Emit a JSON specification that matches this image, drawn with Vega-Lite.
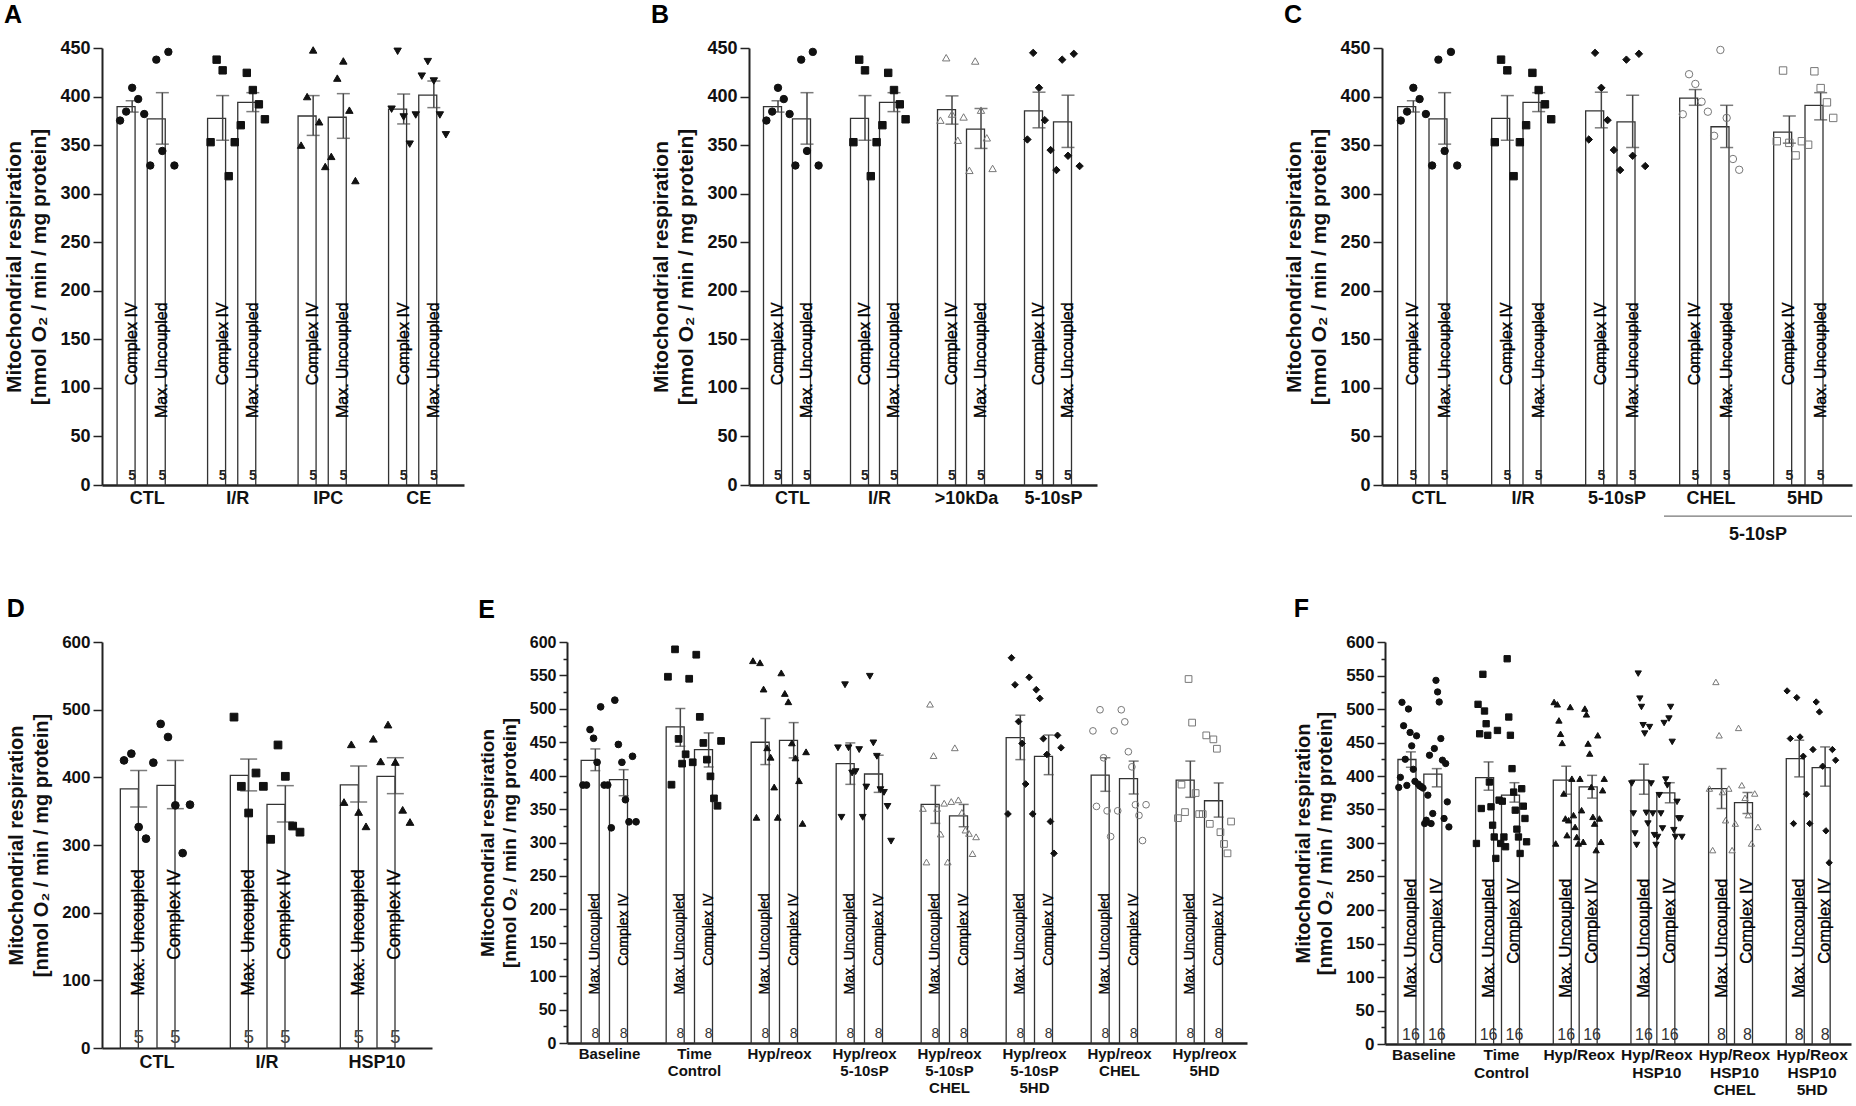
{
  "$schema": "https://vega.github.io/schema/vega-lite/v6.json",
  "padding": {"left": 3, "top": 3, "right": 0, "bottom": 0},
  "config": {
    "font": "Liberation Sans",
    "view": {"stroke": null},
    "title": {"fontSize": 25, "fontWeight": "bold", "anchor": "start", "frame": "bounds", "offset": 11, "color": "#000"},
    "axis": {"grid": false, "labelFontWeight": "bold", "labelColor": "#111", "titleFontWeight": "bold", "titleColor": "#111", "domainColor": "#222", "domainWidth": 2, "tickColor": "#222", "tickWidth": 1.5, "labelPadding": 3, "titlePadding": 10, "labelOverlap": false},
    "text": {"font": "Liberation Sans"}
  },
  "datasets": {
    "bars": [
      {"key":"A1a","panel":"A","grp":"CTL","meas":"Complex IV","mean":389.6,"lo":384,"hi":395.7,"n":5},
      {"key":"A1b","panel":"A","grp":"CTL","meas":"Max. Uncoupled","mean":377,"lo":351,"hi":404,"n":5},
      {"key":"A2a","panel":"A","grp":"I/R","meas":"Complex IV","mean":377.6,"lo":355,"hi":401,"n":5},
      {"key":"A2b","panel":"A","grp":"I/R","meas":"Max. Uncoupled","mean":394,"lo":384.5,"hi":404,"n":5},
      {"key":"A3a","panel":"A","grp":"IPC","meas":"Complex IV","mean":380,"lo":360,"hi":401,"n":5},
      {"key":"A3b","panel":"A","grp":"IPC","meas":"Max. Uncoupled","mean":378.7,"lo":357,"hi":403,"n":5},
      {"key":"A4a","panel":"A","grp":"CE","meas":"Complex IV","mean":387,"lo":371.8,"hi":402.6,"n":5},
      {"key":"A4b","panel":"A","grp":"CE","meas":"Max. Uncoupled","mean":401.5,"lo":388.6,"hi":416,"n":5},
      {"key":"B1a","panel":"B","grp":"CTL","meas":"Complex IV","mean":389.6,"lo":384,"hi":395.7,"n":5},
      {"key":"B1b","panel":"B","grp":"CTL","meas":"Max. Uncoupled","mean":377,"lo":351,"hi":404,"n":5},
      {"key":"B2a","panel":"B","grp":"I/R","meas":"Complex IV","mean":377.6,"lo":355,"hi":401,"n":5},
      {"key":"B2b","panel":"B","grp":"I/R","meas":"Max. Uncoupled","mean":394,"lo":384.5,"hi":404,"n":5},
      {"key":"B3a","panel":"B","grp":">10kDa","meas":"Complex IV","mean":386.6,"lo":371.6,"hi":400.7,"n":5},
      {"key":"B3b","panel":"B","grp":">10kDa","meas":"Max. Uncoupled","mean":366.4,"lo":346.6,"hi":387.7,"n":5},
      {"key":"B4a","panel":"B","grp":"5-10sP","meas":"Complex IV","mean":385.3,"lo":367.8,"hi":404.5,"n":5},
      {"key":"B4b","panel":"B","grp":"5-10sP","meas":"Max. Uncoupled","mean":374,"lo":347.6,"hi":401.4,"n":5},
      {"key":"C1a","panel":"C","grp":"CTL","meas":"Complex IV","mean":389.6,"lo":384,"hi":395.7,"n":5},
      {"key":"C1b","panel":"C","grp":"CTL","meas":"Max. Uncoupled","mean":377,"lo":351,"hi":404,"n":5},
      {"key":"C2a","panel":"C","grp":"I/R","meas":"Complex IV","mean":377.6,"lo":355,"hi":401,"n":5},
      {"key":"C2b","panel":"C","grp":"I/R","meas":"Max. Uncoupled","mean":394,"lo":384.5,"hi":404,"n":5},
      {"key":"C3a","panel":"C","grp":"5-10sP","meas":"Complex IV","mean":385.3,"lo":367.8,"hi":404.5,"n":5},
      {"key":"C3b","panel":"C","grp":"5-10sP","meas":"Max. Uncoupled","mean":374,"lo":347.6,"hi":401.4,"n":5},
      {"key":"C4a","panel":"C","grp":"CHEL","meas":"Complex IV","mean":398.4,"lo":391,"hi":407.2,"n":5},
      {"key":"C4b","panel":"C","grp":"CHEL","meas":"Max. Uncoupled","mean":368.9,"lo":347.5,"hi":391,"n":5},
      {"key":"C5a","panel":"C","grp":"5HD","meas":"Complex IV","mean":363.3,"lo":352,"hi":380,"n":5},
      {"key":"C5b","panel":"C","grp":"5HD","meas":"Max. Uncoupled","mean":391,"lo":376,"hi":404,"n":5},
      {"key":"D1a","panel":"D","grp":"CTL","meas":"Max. Uncoupled","mean":382.8,"lo":356,"hi":410,"n":5},
      {"key":"D1b","panel":"D","grp":"CTL","meas":"Complex IV","mean":388,"lo":353.7,"hi":425,"n":5},
      {"key":"D2a","panel":"D","grp":"I/R","meas":"Max. Uncoupled","mean":403,"lo":380,"hi":427,"n":5},
      {"key":"D2b","panel":"D","grp":"I/R","meas":"Complex IV","mean":360,"lo":334,"hi":387.7,"n":5},
      {"key":"D3a","panel":"D","grp":"HSP10","meas":"Max. Uncoupled","mean":389,"lo":363.5,"hi":416.7,"n":5},
      {"key":"D3b","panel":"D","grp":"HSP10","meas":"Complex IV","mean":401.5,"lo":375.9,"hi":429,"n":5},
      {"key":"E1a","panel":"E","grp":"Baseline","meas":"Max. Uncoupled","mean":423,"lo":407.5,"hi":440,"n":8},
      {"key":"E1b","panel":"E","grp":"Baseline","meas":"Complex IV","mean":394,"lo":370,"hi":409,"n":8},
      {"key":"E2a","panel":"E","grp":"Time\nControl","meas":"Max. Uncoupled","mean":473,"lo":444,"hi":500.5,"n":8},
      {"key":"E2b","panel":"E","grp":"Time\nControl","meas":"Complex IV","mean":439,"lo":413,"hi":464,"n":8},
      {"key":"E3a","panel":"E","grp":"Hyp/reox","meas":"Max. Uncoupled","mean":450,"lo":416.6,"hi":485.5,"n":8},
      {"key":"E3b","panel":"E","grp":"Hyp/reox","meas":"Complex IV","mean":452.7,"lo":426.6,"hi":479.4,"n":8},
      {"key":"E4a","panel":"E","grp":"Hyp/reox\n5-10sP","meas":"Max. Uncoupled","mean":418,"lo":387,"hi":449,"n":8},
      {"key":"E4b","panel":"E","grp":"Hyp/reox\n5-10sP","meas":"Complex IV","mean":402.5,"lo":375,"hi":430.6,"n":8},
      {"key":"E5a","panel":"E","grp":"Hyp/reox\n5-10sP\nCHEL","meas":"Max. Uncoupled","mean":357,"lo":328.6,"hi":385.4,"n":8},
      {"key":"E5b","panel":"E","grp":"Hyp/reox\n5-10sP\nCHEL","meas":"Complex IV","mean":339.7,"lo":323.6,"hi":357,"n":8},
      {"key":"E6a","panel":"E","grp":"Hyp/reox\n5-10sP\n5HD","meas":"Max. Uncoupled","mean":456.8,"lo":424,"hi":490.5,"n":8},
      {"key":"E6b","panel":"E","grp":"Hyp/reox\n5-10sP\n5HD","meas":"Complex IV","mean":429,"lo":401.5,"hi":460.8,"n":8},
      {"key":"E7a","panel":"E","grp":"Hyp/reox\nCHEL","meas":"Max. Uncoupled","mean":400.7,"lo":376.6,"hi":426.8,"n":8},
      {"key":"E7b","panel":"E","grp":"Hyp/reox\nCHEL","meas":"Complex IV","mean":395.6,"lo":372.6,"hi":421.8,"n":8},
      {"key":"E8a","panel":"E","grp":"Hyp/reox\n5HD","meas":"Max. Uncoupled","mean":393.2,"lo":367.6,"hi":421.8,"n":8},
      {"key":"E8b","panel":"E","grp":"Hyp/reox\n5HD","meas":"Complex IV","mean":362.5,"lo":338,"hi":389.1,"n":8},
      {"key":"F1a","panel":"F","grp":"Baseline","meas":"Max. Uncoupled","mean":424.6,"lo":413,"hi":436,"n":16},
      {"key":"F1b","panel":"F","grp":"Baseline","meas":"Complex IV","mean":402.7,"lo":383.8,"hi":411,"n":16},
      {"key":"F2a","panel":"F","grp":"Time\nControl","meas":"Max. Uncoupled","mean":397.7,"lo":378.8,"hi":421,"n":16},
      {"key":"F2b","panel":"F","grp":"Time\nControl","meas":"Complex IV","mean":371.4,"lo":361,"hi":390,"n":16},
      {"key":"F3a","panel":"F","grp":"Hyp/Reox","meas":"Max. Uncoupled","mean":393.7,"lo":372.8,"hi":414.6,"n":16},
      {"key":"F3b","panel":"F","grp":"Hyp/Reox","meas":"Complex IV","mean":383.8,"lo":367,"hi":401,"n":16},
      {"key":"F4a","panel":"F","grp":"Hyp/Reox\nHSP10","meas":"Max. Uncoupled","mean":393.7,"lo":372.8,"hi":417.6,"n":16},
      {"key":"F4b","panel":"F","grp":"Hyp/Reox\nHSP10","meas":"Complex IV","mean":374.8,"lo":360,"hi":390,"n":16},
      {"key":"F5a","panel":"F","grp":"Hyp/Reox\nHSP10\nCHEL","meas":"Max. Uncoupled","mean":381.3,"lo":351.5,"hi":411,"n":8},
      {"key":"F5b","panel":"F","grp":"Hyp/Reox\nHSP10\nCHEL","meas":"Complex IV","mean":360.4,"lo":344,"hi":375.4,"n":8},
      {"key":"F6a","panel":"F","grp":"Hyp/Reox\nHSP10\n5HD","meas":"Max. Uncoupled","mean":426,"lo":398.7,"hi":453.4,"n":8},
      {"key":"F6b","panel":"F","grp":"Hyp/Reox\nHSP10\n5HD","meas":"Complex IV","mean":412.6,"lo":384.8,"hi":443.4,"n":8}
    ],
    "pts": [
      {"key":"A1a","rep":1,"value":375.3},{"key":"A1a","rep":2,"value":384.5},{"key":"A1a","rep":3,"value":409},{"key":"A1a","rep":4,"value":397.4},{"key":"A1a","rep":5,"value":382},
      {"key":"A1b","rep":1,"value":329},{"key":"A1b","rep":2,"value":438},{"key":"A1b","rep":3,"value":344},{"key":"A1b","rep":4,"value":446},{"key":"A1b","rep":5,"value":329},
      {"key":"A2a","rep":1,"value":353},{"key":"A2a","rep":2,"value":438},{"key":"A2a","rep":3,"value":427},{"key":"A2a","rep":4,"value":318},{"key":"A2a","rep":5,"value":353},
      {"key":"A2b","rep":1,"value":370.5},{"key":"A2b","rep":2,"value":424.4},{"key":"A2b","rep":3,"value":406.7},{"key":"A2b","rep":4,"value":392},{"key":"A2b","rep":5,"value":376.6},
      {"key":"A3a","rep":1,"value":350},{"key":"A3a","rep":2,"value":400},{"key":"A3a","rep":3,"value":448},{"key":"A3a","rep":4,"value":374},{"key":"A3a","rep":5,"value":328},
      {"key":"A3b","rep":1,"value":338.4},{"key":"A3b","rep":2,"value":419},{"key":"A3b","rep":3,"value":436.7},{"key":"A3b","rep":4,"value":386},{"key":"A3b","rep":5,"value":313.5},
      {"key":"A4a","rep":1,"value":387},{"key":"A4a","rep":2,"value":446.6},{"key":"A4a","rep":3,"value":379},{"key":"A4a","rep":4,"value":351},{"key":"A4a","rep":5,"value":381},
      {"key":"A4b","rep":1,"value":421},{"key":"A4b","rep":2,"value":436},{"key":"A4b","rep":3,"value":416},{"key":"A4b","rep":4,"value":381},{"key":"A4b","rep":5,"value":360.6},
      {"key":"B1a","rep":1,"value":375.3},{"key":"B1a","rep":2,"value":384.5},{"key":"B1a","rep":3,"value":409},{"key":"B1a","rep":4,"value":397.4},{"key":"B1a","rep":5,"value":382},
      {"key":"B1b","rep":1,"value":329},{"key":"B1b","rep":2,"value":438},{"key":"B1b","rep":3,"value":344},{"key":"B1b","rep":4,"value":446},{"key":"B1b","rep":5,"value":329},
      {"key":"B2a","rep":1,"value":353},{"key":"B2a","rep":2,"value":438},{"key":"B2a","rep":3,"value":427},{"key":"B2a","rep":4,"value":318},{"key":"B2a","rep":5,"value":353},
      {"key":"B2b","rep":1,"value":370.5},{"key":"B2b","rep":2,"value":424.4},{"key":"B2b","rep":3,"value":406.7},{"key":"B2b","rep":4,"value":392},{"key":"B2b","rep":5,"value":376.6},
      {"key":"B3a","rep":1,"value":375.7},{"key":"B3a","rep":2,"value":440},{"key":"B3a","rep":3,"value":382},{"key":"B3a","rep":4,"value":355},{"key":"B3a","rep":5,"value":379},
      {"key":"B3b","rep":1,"value":324},{"key":"B3b","rep":2,"value":436.6},{"key":"B3b","rep":3,"value":386},{"key":"B3b","rep":4,"value":357.5},{"key":"B3b","rep":5,"value":326},
      {"key":"B4a","rep":1,"value":355.8},{"key":"B4a","rep":2,"value":445},{"key":"B4a","rep":3,"value":409},{"key":"B4a","rep":4,"value":375.7},{"key":"B4a","rep":5,"value":344.9},
      {"key":"B4b","rep":1,"value":324.3},{"key":"B4b","rep":2,"value":438},{"key":"B4b","rep":3,"value":339},{"key":"B4b","rep":4,"value":444},{"key":"B4b","rep":5,"value":328.4},
      {"key":"C1a","rep":1,"value":375.3},{"key":"C1a","rep":2,"value":384.5},{"key":"C1a","rep":3,"value":409},{"key":"C1a","rep":4,"value":397.4},{"key":"C1a","rep":5,"value":382},
      {"key":"C1b","rep":1,"value":329},{"key":"C1b","rep":2,"value":438},{"key":"C1b","rep":3,"value":344},{"key":"C1b","rep":4,"value":446},{"key":"C1b","rep":5,"value":329},
      {"key":"C2a","rep":1,"value":353},{"key":"C2a","rep":2,"value":438},{"key":"C2a","rep":3,"value":427},{"key":"C2a","rep":4,"value":318},{"key":"C2a","rep":5,"value":353},
      {"key":"C2b","rep":1,"value":370.5},{"key":"C2b","rep":2,"value":424.4},{"key":"C2b","rep":3,"value":406.7},{"key":"C2b","rep":4,"value":392},{"key":"C2b","rep":5,"value":376.6},
      {"key":"C3a","rep":1,"value":355.8},{"key":"C3a","rep":2,"value":445},{"key":"C3a","rep":3,"value":409},{"key":"C3a","rep":4,"value":375.7},{"key":"C3a","rep":5,"value":344.9},
      {"key":"C3b","rep":1,"value":324.3},{"key":"C3b","rep":2,"value":438},{"key":"C3b","rep":3,"value":339},{"key":"C3b","rep":4,"value":444},{"key":"C3b","rep":5,"value":328.4},
      {"key":"C4a","rep":1,"value":381.8},{"key":"C4a","rep":2,"value":423},{"key":"C4a","rep":3,"value":413},{"key":"C4a","rep":4,"value":394.7},{"key":"C4a","rep":5,"value":384.4},
      {"key":"C4b","rep":1,"value":359.6},{"key":"C4b","rep":2,"value":448},{"key":"C4b","rep":3,"value":378},{"key":"C4b","rep":4,"value":335.7},{"key":"C4b","rep":5,"value":324.6},
      {"key":"C5a","rep":1,"value":354},{"key":"C5a","rep":2,"value":426.8},{"key":"C5a","rep":3,"value":352.3},{"key":"C5a","rep":4,"value":339.4},{"key":"C5a","rep":5,"value":354},
      {"key":"C5b","rep":1,"value":350.4},{"key":"C5b","rep":2,"value":426},{"key":"C5b","rep":3,"value":408.7},{"key":"C5b","rep":4,"value":394},{"key":"C5b","rep":5,"value":378},
      {"key":"D1a","rep":1,"value":425},{"key":"D1a","rep":2,"value":435},{"key":"D1a","rep":3,"value":326.6},{"key":"D1a","rep":4,"value":309.4},{"key":"D1a","rep":5,"value":421.7},
      {"key":"D1b","rep":1,"value":479},{"key":"D1b","rep":2,"value":459.6},{"key":"D1b","rep":3,"value":358.6},{"key":"D1b","rep":4,"value":288},{"key":"D1b","rep":5,"value":359.6},
      {"key":"D2a","rep":1,"value":489},{"key":"D2a","rep":2,"value":386.7},{"key":"D2a","rep":3,"value":347.3},{"key":"D2a","rep":4,"value":406.4},{"key":"D2a","rep":5,"value":386.7},
      {"key":"D2b","rep":1,"value":308.4},{"key":"D2b","rep":2,"value":447.8},{"key":"D2b","rep":3,"value":401.5},{"key":"D2b","rep":4,"value":328},{"key":"D2b","rep":5,"value":319},
      {"key":"D3a","rep":1,"value":363.5},{"key":"D3a","rep":2,"value":448.8},{"key":"D3a","rep":3,"value":348.8},{"key":"D3a","rep":4,"value":327.6},{"key":"D3a","rep":5,"value":457},
      {"key":"D3b","rep":1,"value":423.6},{"key":"D3b","rep":2,"value":478},{"key":"D3b","rep":3,"value":422.7},{"key":"D3b","rep":4,"value":352},{"key":"D3b","rep":5,"value":334},
      {"key":"E1a","rep":1,"value":386},{"key":"E1a","rep":2,"value":386},{"key":"E1a","rep":3,"value":469},{"key":"E1a","rep":4,"value":456},{"key":"E1a","rep":5,"value":420},{"key":"E1a","rep":6,"value":503},{"key":"E1a","rep":7,"value":386},{"key":"E1a","rep":8,"value":386},
      {"key":"E1b","rep":1,"value":322},{"key":"E1b","rep":2,"value":513},{"key":"E1b","rep":3,"value":446.7},{"key":"E1b","rep":4,"value":420},{"key":"E1b","rep":5,"value":364},{"key":"E1b","rep":6,"value":331},{"key":"E1b","rep":7,"value":429},{"key":"E1b","rep":8,"value":331},
      {"key":"E2a","rep":1,"value":548},{"key":"E2a","rep":2,"value":386.5},{"key":"E2a","rep":3,"value":589},{"key":"E2a","rep":4,"value":455},{"key":"E2a","rep":5,"value":418},{"key":"E2a","rep":6,"value":432},{"key":"E2a","rep":7,"value":545},{"key":"E2a","rep":8,"value":420},
      {"key":"E2b","rep":1,"value":581},{"key":"E2b","rep":2,"value":488},{"key":"E2b","rep":3,"value":449},{"key":"E2b","rep":4,"value":424},{"key":"E2b","rep":5,"value":399},{"key":"E2b","rep":6,"value":366},{"key":"E2b","rep":7,"value":355},{"key":"E2b","rep":8,"value":452},
      {"key":"E3a","rep":1,"value":572},{"key":"E3a","rep":2,"value":337.7},{"key":"E3a","rep":3,"value":569},{"key":"E3a","rep":4,"value":529.6},{"key":"E3a","rep":5,"value":441.7},{"key":"E3a","rep":6,"value":427.6},{"key":"E3a","rep":7,"value":383},{"key":"E3a","rep":8,"value":337.7},
      {"key":"E3b","rep":1,"value":553.8},{"key":"E3b","rep":2,"value":523},{"key":"E3b","rep":3,"value":510.6},{"key":"E3b","rep":4,"value":449},{"key":"E3b","rep":5,"value":426.6},{"key":"E3b","rep":6,"value":392.5},{"key":"E3b","rep":7,"value":328.6},{"key":"E3b","rep":8,"value":435.7},
      {"key":"E4a","rep":1,"value":441.7},{"key":"E4a","rep":2,"value":337.7},{"key":"E4a","rep":3,"value":536},{"key":"E4a","rep":4,"value":441.7},{"key":"E4a","rep":5,"value":404},{"key":"E4a","rep":6,"value":406},{"key":"E4a","rep":7,"value":439},{"key":"E4a","rep":8,"value":337.7},
      {"key":"E4b","rep":1,"value":383},{"key":"E4b","rep":2,"value":548.7},{"key":"E4b","rep":3,"value":449},{"key":"E4b","rep":4,"value":429},{"key":"E4b","rep":5,"value":379},{"key":"E4b","rep":6,"value":375},{"key":"E4b","rep":7,"value":354},{"key":"E4b","rep":8,"value":302},
      {"key":"E5a","rep":1,"value":351},{"key":"E5a","rep":2,"value":270.8},{"key":"E5a","rep":3,"value":507},{"key":"E5a","rep":4,"value":430},{"key":"E5a","rep":5,"value":351},{"key":"E5a","rep":6,"value":312.6},{"key":"E5a","rep":7,"value":358.8},{"key":"E5a","rep":8,"value":270.8},
      {"key":"E5b","rep":1,"value":361.3},{"key":"E5b","rep":2,"value":441.7},{"key":"E5b","rep":3,"value":363.8},{"key":"E5b","rep":4,"value":345},{"key":"E5b","rep":5,"value":318.6},{"key":"E5b","rep":6,"value":313.6},{"key":"E5b","rep":7,"value":283.4},{"key":"E5b","rep":8,"value":308.5},
      {"key":"E6a","rep":1,"value":342.7},{"key":"E6a","rep":2,"value":576.4},{"key":"E6a","rep":3,"value":536},{"key":"E6a","rep":4,"value":481},{"key":"E6a","rep":5,"value":448.2},{"key":"E6a","rep":6,"value":387.5},{"key":"E6a","rep":7,"value":547.2},{"key":"E6a","rep":8,"value":342.7},
      {"key":"E6b","rep":1,"value":528.6},{"key":"E6b","rep":2,"value":515.6},{"key":"E6b","rep":3,"value":455.4},{"key":"E6b","rep":4,"value":431.7},{"key":"E6b","rep":5,"value":331.4},{"key":"E6b","rep":6,"value":283.8},{"key":"E6b","rep":7,"value":460.3},{"key":"E6b","rep":8,"value":441.8},
      {"key":"E7a","rep":1,"value":467},{"key":"E7a","rep":2,"value":354},{"key":"E7a","rep":3,"value":498.6},{"key":"E7a","rep":4,"value":426.8},{"key":"E7a","rep":5,"value":347.4},{"key":"E7a","rep":6,"value":308.9},{"key":"E7a","rep":7,"value":467},{"key":"E7a","rep":8,"value":347.4},
      {"key":"E7b","rep":1,"value":498.6},{"key":"E7b","rep":2,"value":480.5},{"key":"E7b","rep":3,"value":435.8},{"key":"E7b","rep":4,"value":413.2},{"key":"E7b","rep":5,"value":356.5},{"key":"E7b","rep":6,"value":340.5},{"key":"E7b","rep":7,"value":302.9},{"key":"E7b","rep":8,"value":356.5},
      {"key":"E8a","rep":1,"value":336.4},{"key":"E8a","rep":2,"value":386.6},{"key":"E8a","rep":3,"value":345.5},{"key":"E8a","rep":4,"value":544.6},{"key":"E8a","rep":5,"value":479.4},{"key":"E8a","rep":6,"value":374},{"key":"E8a","rep":7,"value":342.5},{"key":"E8a","rep":8,"value":342.5},
      {"key":"E8b","rep":1,"value":460.3},{"key":"E8b","rep":2,"value":327.9},{"key":"E8b","rep":3,"value":454.3},{"key":"E8b","rep":4,"value":440.3},{"key":"E8b","rep":5,"value":315.4},{"key":"E8b","rep":6,"value":297.8},{"key":"E8b","rep":7,"value":283.8},{"key":"E8b","rep":8,"value":331.4},
      {"key":"F1a","rep":1,"value":383},{"key":"F1a","rep":2,"value":398},{"key":"F1a","rep":3,"value":510},{"key":"F1a","rep":4,"value":475},{"key":"F1a","rep":5,"value":425},{"key":"F1a","rep":6,"value":386},{"key":"F1a","rep":7,"value":500},{"key":"F1a","rep":8,"value":465},{"key":"F1a","rep":9,"value":445},{"key":"F1a","rep":10,"value":410},{"key":"F1a","rep":11,"value":392},{"key":"F1a","rep":12,"value":460},{"key":"F1a","rep":13,"value":388},{"key":"F1a","rep":14,"value":385},{"key":"F1a","rep":15,"value":384},{"key":"F1a","rep":16,"value":382},
      {"key":"F1b","rep":1,"value":329},{"key":"F1b","rep":2,"value":334},{"key":"F1b","rep":3,"value":371.4},{"key":"F1b","rep":4,"value":431},{"key":"F1b","rep":5,"value":329},{"key":"F1b","rep":6,"value":344},{"key":"F1b","rep":7,"value":441},{"key":"F1b","rep":8,"value":542.8},{"key":"F1b","rep":9,"value":525.5},{"key":"F1b","rep":10,"value":510.5},{"key":"F1b","rep":11,"value":455.9},{"key":"F1b","rep":12,"value":423.6},{"key":"F1b","rep":13,"value":336.6},{"key":"F1b","rep":14,"value":418.6},{"key":"F1b","rep":15,"value":361.4},{"key":"F1b","rep":16,"value":324},
      {"key":"F2a","rep":1,"value":299.3},{"key":"F2a","rep":2,"value":507},{"key":"F2a","rep":3,"value":463},{"key":"F2a","rep":4,"value":351.5},{"key":"F2a","rep":5,"value":551.8},{"key":"F2a","rep":6,"value":497},{"key":"F2a","rep":7,"value":478},{"key":"F2a","rep":8,"value":460.8},{"key":"F2a","rep":9,"value":391},{"key":"F2a","rep":10,"value":354},{"key":"F2a","rep":11,"value":326.6},{"key":"F2a","rep":12,"value":309},{"key":"F2a","rep":13,"value":277},{"key":"F2a","rep":14,"value":468},{"key":"F2a","rep":15,"value":364},{"key":"F2a","rep":16,"value":299.3},
      {"key":"F2b","rep":1,"value":362.4},{"key":"F2b","rep":2,"value":309},{"key":"F2b","rep":3,"value":294.4},{"key":"F2b","rep":4,"value":575},{"key":"F2b","rep":5,"value":488},{"key":"F2b","rep":6,"value":460.8},{"key":"F2b","rep":7,"value":411},{"key":"F2b","rep":8,"value":376},{"key":"F2b","rep":9,"value":349},{"key":"F2b","rep":10,"value":320.7},{"key":"F2b","rep":11,"value":309},{"key":"F2b","rep":12,"value":284.4},{"key":"F2b","rep":13,"value":381},{"key":"F2b","rep":14,"value":355},{"key":"F2b","rep":15,"value":336.6},{"key":"F2b","rep":16,"value":301.8},
      {"key":"F3a","rep":1,"value":510.5},{"key":"F3a","rep":2,"value":299.3},{"key":"F3a","rep":3,"value":507},{"key":"F3a","rep":4,"value":483},{"key":"F3a","rep":5,"value":463},{"key":"F3a","rep":6,"value":449.4},{"key":"F3a","rep":7,"value":373.9},{"key":"F3a","rep":8,"value":336.6},{"key":"F3a","rep":9,"value":311.7},{"key":"F3a","rep":10,"value":334},{"key":"F3a","rep":11,"value":503},{"key":"F3a","rep":12,"value":396},{"key":"F3a","rep":13,"value":341.6},{"key":"F3a","rep":14,"value":324},{"key":"F3a","rep":15,"value":309},{"key":"F3a","rep":16,"value":299.3},
      {"key":"F3b","rep":1,"value":396},{"key":"F3b","rep":2,"value":349},{"key":"F3b","rep":3,"value":301.8},{"key":"F3b","rep":4,"value":500.6},{"key":"F3b","rep":5,"value":492},{"key":"F3b","rep":6,"value":448.4},{"key":"F3b","rep":7,"value":433.5},{"key":"F3b","rep":8,"value":383.8},{"key":"F3b","rep":9,"value":339},{"key":"F3b","rep":10,"value":329},{"key":"F3b","rep":11,"value":289.4},{"key":"F3b","rep":12,"value":460.8},{"key":"F3b","rep":13,"value":336.6},{"key":"F3b","rep":14,"value":301.8},{"key":"F3b","rep":15,"value":378.8},{"key":"F3b","rep":16,"value":396},
      {"key":"F4a","rep":1,"value":388.8},{"key":"F4a","rep":2,"value":344},{"key":"F4a","rep":3,"value":314.2},{"key":"F4a","rep":4,"value":297},{"key":"F4a","rep":5,"value":552.8},{"key":"F4a","rep":6,"value":515.5},{"key":"F4a","rep":7,"value":503},{"key":"F4a","rep":8,"value":475.8},{"key":"F4a","rep":9,"value":463.3},{"key":"F4a","rep":10,"value":345},{"key":"F4a","rep":11,"value":329},{"key":"F4a","rep":12,"value":473},{"key":"F4a","rep":13,"value":388.8},{"key":"F4a","rep":14,"value":344},{"key":"F4a","rep":15,"value":311.7},{"key":"F4a","rep":16,"value":297},
      {"key":"F4b","rep":1,"value":309},{"key":"F4b","rep":2,"value":371.4},{"key":"F4b","rep":3,"value":344},{"key":"F4b","rep":4,"value":321.7},{"key":"F4b","rep":5,"value":479},{"key":"F4b","rep":6,"value":394.7},{"key":"F4b","rep":7,"value":386},{"key":"F4b","rep":8,"value":485.7},{"key":"F4b","rep":9,"value":503},{"key":"F4b","rep":10,"value":450.9},{"key":"F4b","rep":11,"value":319.2},{"key":"F4b","rep":12,"value":309},{"key":"F4b","rep":13,"value":361.4},{"key":"F4b","rep":14,"value":336.6},{"key":"F4b","rep":15,"value":336.6},{"key":"F4b","rep":16,"value":309},
      {"key":"F5a","rep":1,"value":381.3},{"key":"F5a","rep":3,"value":289.4},{"key":"F5a","rep":5,"value":540.4},{"key":"F5a","rep":7,"value":460.8},{"key":"F5a","rep":9,"value":376},{"key":"F5a","rep":11,"value":334},{"key":"F5a","rep":13,"value":381.3},{"key":"F5a","rep":15,"value":289.4},
      {"key":"F5b","rep":1,"value":329},{"key":"F5b","rep":3,"value":471.8},{"key":"F5b","rep":5,"value":386.3},{"key":"F5b","rep":7,"value":367.4},{"key":"F5b","rep":9,"value":341.6},{"key":"F5b","rep":11,"value":299.3},{"key":"F5b","rep":13,"value":373.9},{"key":"F5b","rep":15,"value":324},
      {"key":"F6a","rep":1,"value":527},{"key":"F6a","rep":3,"value":455.9},{"key":"F6a","rep":5,"value":329},{"key":"F6a","rep":7,"value":517},{"key":"F6a","rep":9,"value":458.3},{"key":"F6a","rep":11,"value":429.5},{"key":"F6a","rep":13,"value":372.9},{"key":"F6a","rep":15,"value":329},
      {"key":"F6b","rep":1,"value":439.5},{"key":"F6b","rep":3,"value":510.5},{"key":"F6b","rep":5,"value":495.6},{"key":"F6b","rep":7,"value":414.6},{"key":"F6b","rep":9,"value":318.2},{"key":"F6b","rep":11,"value":270.5},{"key":"F6b","rep":13,"value":439.5},{"key":"F6b","rep":15,"value":423.6}
    ]
  },
  "resolve": {"scale": {"shape": "independent", "fill": "independent", "stroke": "independent", "xOffset": "independent"}},
  "spacing": 53,
  "vconcat": [
    {
      "spacing": 186,
      "resolve": {"scale": {"shape": "independent", "fill": "independent", "stroke": "independent", "xOffset": "independent"}},
      "hconcat": [
        {
          "width": 362, "height": 437, "title": "A",
          "layer": [
            {"data": {"name": "bars"}, "transform": [{"filter": "datum.panel === 'A'"}],
             "mark": {"type": "bar", "fill": "white", "stroke": "#333", "strokeWidth": 1.3},
             "encoding": {
               "x": {"field": "key", "type": "nominal", "scale": {"type": "band", "domain": ["A1a","A1b","A_s1","A2a","A2b","A_s2","A3a","A3b","A_s3","A4a","A4b"], "paddingInner": 0, "paddingOuter": 0.5}, "axis": {"labels": false, "ticks": false, "title": null, "domainWidth": 2.5}},
               "y": {"field": "mean", "type": "quantitative", "scale": {"domain": [0, 450], "nice": false}, "axis": {"values": [0,25,50,75,100,125,150,175,200,225,250,275,300,325,350,375,400,425,450], "labelExpr": "datum.value % 50 === 0 ? datum.label : ''", "labelOverlap": false, "tickSize": {"condition": {"test": "datum.value % 50 === 0", "value": 9}, "value": 5}, "labelFontSize": {"condition": {"test": "datum.value % 50 === 0", "value": 18}, "value": 1}, "title": ["Mitochondrial respiration", "[nmol O₂ / min / mg protein]"], "titleFontSize": 21, "titleLineHeight": 25}}
             }},
            {"data": {"name": "bars"}, "transform": [{"filter": "datum.panel === 'A'"}],
             "mark": {"type": "rule", "color": "#444", "strokeWidth": 1.5},
             "encoding": {"x": {"field": "key", "type": "nominal"}, "y": {"field": "lo", "type": "quantitative"}, "y2": {"field": "hi"}}},
            {"data": {"name": "bars"}, "transform": [{"filter": "datum.panel === 'A'"}],
             "mark": {"type": "tick", "color": "#444", "thickness": 1.5, "size": 13},
             "encoding": {"x": {"field": "key", "type": "nominal"}, "y": {"field": "hi", "type": "quantitative"}}},
            {"data": {"name": "bars"}, "transform": [{"filter": "datum.panel === 'A'"}],
             "mark": {"type": "tick", "color": "#444", "thickness": 1.5, "size": 13},
             "encoding": {"x": {"field": "key", "type": "nominal"}, "y": {"field": "lo", "type": "quantitative"}}},
            {"data": {"name": "pts"}, "transform": [{"lookup": "key", "from": {"data": {"name": "bars"}, "key": "key", "fields": ["panel", "grp"]}}, {"filter": "datum.panel === 'A'"}],
             "mark": {"type": "point", "filled": true, "opacity": 1, "size": 55, "strokeWidth": 1},
             "encoding": {
               "x": {"field": "key", "type": "nominal"},
               "xOffset": {"field": "rep", "type": "nominal"},
               "y": {"field": "value", "type": "quantitative"},
               "shape": {"field": "grp", "type": "nominal", "scale": {"domain": ["CTL","I/R","IPC","CE"], "range": ["circle","square","triangle-up","triangle-down"]}, "legend": null},
               "fill": {"field": "grp", "type": "nominal", "scale": {"domain": ["CTL","I/R","IPC","CE"], "range": ["#111","#111","#111","#111"]}, "legend": null},
               "stroke": {"field": "grp", "type": "nominal", "scale": {"domain": ["CTL","I/R","IPC","CE"], "range": ["#111","#111","#111","#111"]}, "legend": null}
             }},
            {"data": {"name": "bars"}, "transform": [{"filter": "datum.panel === 'A'"}],
             "mark": {"type": "text", "angle": 270, "align": "right", "baseline": "middle", "fontSize": 16, "color": "#000", "stroke": "#000", "strokeWidth": 0.35},
             "encoding": {"x": {"field": "key", "type": "nominal"}, "y": {"datum": 188}, "text": {"field": "meas"}}},
            {"data": {"name": "bars"}, "transform": [{"filter": "datum.panel === 'A'"}],
             "mark": {"type": "text", "baseline": "bottom", "dy": -2, "fontSize": 14, "fontWeight": "bold", "color": "#222"},
             "encoding": {"x": {"field": "key", "type": "nominal"}, "y": {"datum": 0}, "text": {"field": "n"}}},
            {"data": {"name": "bars"}, "transform": [{"filter": "datum.panel === 'A' && datum.meas === 'Max. Uncoupled'"}],
             "mark": {"type": "text", "baseline": "top", "dy": 5, "fontSize": 18, "fontWeight": "bold", "color": "#111", "lineBreak": "\n"},
             "encoding": {"x": {"field": "key", "type": "nominal", "bandPosition": 0}, "y": {"datum": 0}, "text": {"field": "grp"}}}
          ]
        },
        {
          "width": 348, "height": 437, "title": "B",
          "layer": [
            {"data": {"name": "bars"}, "transform": [{"filter": "datum.panel === 'B'"}],
             "mark": {"type": "bar", "fill": "white", "stroke": "#333", "strokeWidth": 1.3},
             "encoding": {
               "x": {"field": "key", "type": "nominal", "scale": {"type": "band", "domain": ["B1a","B1b","B_s1","B2a","B2b","B_s2","B3a","B3b","B_s3","B4a","B4b"], "paddingInner": 0, "paddingOuter": 0.5}, "axis": {"labels": false, "ticks": false, "title": null, "domainWidth": 2.5}},
               "y": {"field": "mean", "type": "quantitative", "scale": {"domain": [0, 450], "nice": false}, "axis": {"values": [0,25,50,75,100,125,150,175,200,225,250,275,300,325,350,375,400,425,450], "labelExpr": "datum.value % 50 === 0 ? datum.label : ''", "labelOverlap": false, "tickSize": {"condition": {"test": "datum.value % 50 === 0", "value": 9}, "value": 5}, "labelFontSize": {"condition": {"test": "datum.value % 50 === 0", "value": 18}, "value": 1}, "title": ["Mitochondrial respiration", "[nmol O₂ / min / mg protein]"], "titleFontSize": 21, "titleLineHeight": 25}}
             }},
            {"data": {"name": "bars"}, "transform": [{"filter": "datum.panel === 'B'"}],
             "mark": {"type": "rule", "color": "#444", "strokeWidth": 1.5},
             "encoding": {"x": {"field": "key", "type": "nominal"}, "y": {"field": "lo", "type": "quantitative"}, "y2": {"field": "hi"}}},
            {"data": {"name": "bars"}, "transform": [{"filter": "datum.panel === 'B'"}],
             "mark": {"type": "tick", "color": "#444", "thickness": 1.5, "size": 13},
             "encoding": {"x": {"field": "key", "type": "nominal"}, "y": {"field": "hi", "type": "quantitative"}}},
            {"data": {"name": "bars"}, "transform": [{"filter": "datum.panel === 'B'"}],
             "mark": {"type": "tick", "color": "#444", "thickness": 1.5, "size": 13},
             "encoding": {"x": {"field": "key", "type": "nominal"}, "y": {"field": "lo", "type": "quantitative"}}},
            {"data": {"name": "pts"}, "transform": [{"lookup": "key", "from": {"data": {"name": "bars"}, "key": "key", "fields": ["panel", "grp"]}}, {"filter": "datum.panel === 'B'"}],
             "mark": {"type": "point", "filled": true, "opacity": 1, "size": 55, "strokeWidth": 1},
             "encoding": {
               "x": {"field": "key", "type": "nominal"},
               "xOffset": {"field": "rep", "type": "nominal"},
               "y": {"field": "value", "type": "quantitative"},
               "shape": {"field": "grp", "type": "nominal", "scale": {"domain": ["CTL","I/R",">10kDa","5-10sP"], "range": ["circle","square","triangle-up","diamond"]}, "legend": null},
               "fill": {"field": "grp", "type": "nominal", "scale": {"domain": ["CTL","I/R",">10kDa","5-10sP"], "range": ["#111","#111","transparent","#111"]}, "legend": null},
               "stroke": {"field": "grp", "type": "nominal", "scale": {"domain": ["CTL","I/R",">10kDa","5-10sP"], "range": ["#111","#111","#777","#111"]}, "legend": null}
             }},
            {"data": {"name": "bars"}, "transform": [{"filter": "datum.panel === 'B'"}],
             "mark": {"type": "text", "angle": 270, "align": "right", "baseline": "middle", "fontSize": 16, "color": "#000", "stroke": "#000", "strokeWidth": 0.35},
             "encoding": {"x": {"field": "key", "type": "nominal"}, "y": {"datum": 188}, "text": {"field": "meas"}}},
            {"data": {"name": "bars"}, "transform": [{"filter": "datum.panel === 'B'"}],
             "mark": {"type": "text", "baseline": "bottom", "dy": -2, "fontSize": 14, "fontWeight": "bold", "color": "#222"},
             "encoding": {"x": {"field": "key", "type": "nominal"}, "y": {"datum": 0}, "text": {"field": "n"}}},
            {"data": {"name": "bars"}, "transform": [{"filter": "datum.panel === 'B' && datum.meas === 'Max. Uncoupled'"}],
             "mark": {"type": "text", "baseline": "top", "dy": 5, "fontSize": 18, "fontWeight": "bold", "color": "#111", "lineBreak": "\n"},
             "encoding": {"x": {"field": "key", "type": "nominal", "bandPosition": 0}, "y": {"datum": 0}, "text": {"field": "grp"}}}
          ]
        },
        {
          "width": 470, "height": 437, "title": "C",
          "layer": [
            {"data": {"name": "bars"}, "transform": [{"filter": "datum.panel === 'C'"}],
             "mark": {"type": "bar", "fill": "white", "stroke": "#333", "strokeWidth": 1.3},
             "encoding": {
               "x": {"field": "key", "type": "nominal", "scale": {"type": "band", "domain": ["C1a","C1b","C_s1","C2a","C2b","C_s2","C3a","C3b","C_s3","C4a","C4b","C_s4","C5a","C5b"], "paddingInner": 0, "paddingOuter": 0.5}, "axis": {"labels": false, "ticks": false, "title": null, "domainWidth": 2.5}},
               "y": {"field": "mean", "type": "quantitative", "scale": {"domain": [0, 450], "nice": false}, "axis": {"values": [0,25,50,75,100,125,150,175,200,225,250,275,300,325,350,375,400,425,450], "labelExpr": "datum.value % 50 === 0 ? datum.label : ''", "labelOverlap": false, "tickSize": {"condition": {"test": "datum.value % 50 === 0", "value": 9}, "value": 5}, "labelFontSize": {"condition": {"test": "datum.value % 50 === 0", "value": 18}, "value": 1}, "title": ["Mitochondrial respiration", "[nmol O₂ / min / mg protein]"], "titleFontSize": 21, "titleLineHeight": 25}}
             }},
            {"data": {"name": "bars"}, "transform": [{"filter": "datum.panel === 'C'"}],
             "mark": {"type": "rule", "color": "#444", "strokeWidth": 1.5},
             "encoding": {"x": {"field": "key", "type": "nominal"}, "y": {"field": "lo", "type": "quantitative"}, "y2": {"field": "hi"}}},
            {"data": {"name": "bars"}, "transform": [{"filter": "datum.panel === 'C'"}],
             "mark": {"type": "tick", "color": "#444", "thickness": 1.5, "size": 13},
             "encoding": {"x": {"field": "key", "type": "nominal"}, "y": {"field": "hi", "type": "quantitative"}}},
            {"data": {"name": "bars"}, "transform": [{"filter": "datum.panel === 'C'"}],
             "mark": {"type": "tick", "color": "#444", "thickness": 1.5, "size": 13},
             "encoding": {"x": {"field": "key", "type": "nominal"}, "y": {"field": "lo", "type": "quantitative"}}},
            {"data": {"name": "pts"}, "transform": [{"lookup": "key", "from": {"data": {"name": "bars"}, "key": "key", "fields": ["panel", "grp"]}}, {"filter": "datum.panel === 'C'"}],
             "mark": {"type": "point", "filled": true, "opacity": 1, "size": 55, "strokeWidth": 1},
             "encoding": {
               "x": {"field": "key", "type": "nominal"},
               "xOffset": {"field": "rep", "type": "nominal"},
               "y": {"field": "value", "type": "quantitative"},
               "shape": {"field": "grp", "type": "nominal", "scale": {"domain": ["CTL","I/R","5-10sP","CHEL","5HD"], "range": ["circle","square","diamond","circle","square"]}, "legend": null},
               "fill": {"field": "grp", "type": "nominal", "scale": {"domain": ["CTL","I/R","5-10sP","CHEL","5HD"], "range": ["#111","#111","#111","transparent","transparent"]}, "legend": null},
               "stroke": {"field": "grp", "type": "nominal", "scale": {"domain": ["CTL","I/R","5-10sP","CHEL","5HD"], "range": ["#111","#111","#111","#777","#777"]}, "legend": null}
             }},
            {"data": {"name": "bars"}, "transform": [{"filter": "datum.panel === 'C'"}],
             "mark": {"type": "text", "angle": 270, "align": "right", "baseline": "middle", "fontSize": 16, "color": "#000", "stroke": "#000", "strokeWidth": 0.35},
             "encoding": {"x": {"field": "key", "type": "nominal"}, "y": {"datum": 188}, "text": {"field": "meas"}}},
            {"data": {"name": "bars"}, "transform": [{"filter": "datum.panel === 'C'"}],
             "mark": {"type": "text", "baseline": "bottom", "dy": -2, "fontSize": 14, "fontWeight": "bold", "color": "#222"},
             "encoding": {"x": {"field": "key", "type": "nominal"}, "y": {"datum": 0}, "text": {"field": "n"}}},
            {"data": {"name": "bars"}, "transform": [{"filter": "datum.panel === 'C' && datum.meas === 'Max. Uncoupled'"}],
             "mark": {"type": "text", "baseline": "top", "dy": 5, "fontSize": 18, "fontWeight": "bold", "color": "#111", "lineBreak": "\n"},
             "encoding": {"x": {"field": "key", "type": "nominal", "bandPosition": 0}, "y": {"datum": 0}, "text": {"field": "grp"}}},
            {"data": {"name": "bars"}, "transform": [{"filter": "datum.key === 'C4a'"}],
             "mark": {"type": "rule", "color": "#777", "strokeWidth": 1.3},
             "encoding": {"x": {"datum": "C_s3"}, "x2": {"value": "width"}, "y": {"datum": -32}}},
            {"data": {"name": "bars"}, "transform": [{"filter": "datum.key === 'C4a'"}],
             "mark": {"type": "text", "baseline": "middle", "fontSize": 18, "fontWeight": "bold", "color": "#111"},
             "encoding": {"x": {"datum": "C_s4"}, "y": {"datum": -51}, "text": {"value": "5-10sP"}}}
          ]
        }
      ]
    },
    {
      "spacing": 46,
      "resolve": {"scale": {"shape": "independent", "fill": "independent", "stroke": "independent", "xOffset": "independent"}},
      "hconcat": [
        {
          "width": 330, "height": 406, "title": "D",
          "layer": [
            {"data": {"name": "bars"}, "transform": [{"filter": "datum.panel === 'D'"}],
             "mark": {"type": "bar", "fill": "white", "stroke": "#333", "strokeWidth": 1.3},
             "encoding": {
               "x": {"field": "key", "type": "nominal", "scale": {"type": "band", "domain": ["D1a","D1b","D_s1","D2a","D2b","D_s2","D3a","D3b"], "paddingInner": 0, "paddingOuter": 0.5}, "axis": {"labels": false, "ticks": false, "title": null, "domainWidth": 2}},
               "y": {"field": "mean", "type": "quantitative", "scale": {"domain": [0, 600], "nice": false}, "axis": {"values": [0,50,100,150,200,250,300,350,400,450,500,550,600], "labelExpr": "datum.value % 100 === 0 ? datum.label : ''", "labelOverlap": false, "tickSize": {"condition": {"test": "datum.value % 100 === 0", "value": 9}, "value": 5}, "labelFontSize": {"condition": {"test": "datum.value % 100 === 0", "value": 17}, "value": 1}, "title": ["Mitochondrial respiration", "[nmol O₂ / min / mg protein]"], "titleFontSize": 20, "titleLineHeight": 25}}
             }},
            {"data": {"name": "bars"}, "transform": [{"filter": "datum.panel === 'D'"}],
             "mark": {"type": "rule", "color": "#444", "strokeWidth": 1.5},
             "encoding": {"x": {"field": "key", "type": "nominal"}, "y": {"field": "lo", "type": "quantitative"}, "y2": {"field": "hi"}}},
            {"data": {"name": "bars"}, "transform": [{"filter": "datum.panel === 'D'"}],
             "mark": {"type": "tick", "color": "#444", "thickness": 1.5, "size": 17},
             "encoding": {"x": {"field": "key", "type": "nominal"}, "y": {"field": "hi", "type": "quantitative"}}},
            {"data": {"name": "bars"}, "transform": [{"filter": "datum.panel === 'D'"}],
             "mark": {"type": "tick", "color": "#444", "thickness": 1.5, "size": 17},
             "encoding": {"x": {"field": "key", "type": "nominal"}, "y": {"field": "lo", "type": "quantitative"}}},
            {"data": {"name": "pts"}, "transform": [{"lookup": "key", "from": {"data": {"name": "bars"}, "key": "key", "fields": ["panel", "grp"]}}, {"filter": "datum.panel === 'D'"}],
             "mark": {"type": "point", "filled": true, "opacity": 1, "size": 60, "strokeWidth": 1},
             "encoding": {
               "x": {"field": "key", "type": "nominal"},
               "xOffset": {"field": "rep", "type": "nominal"},
               "y": {"field": "value", "type": "quantitative"},
               "shape": {"field": "grp", "type": "nominal", "scale": {"domain": ["CTL","I/R","HSP10"], "range": ["circle","square","triangle-up"]}, "legend": null},
               "fill": {"field": "grp", "type": "nominal", "scale": {"domain": ["CTL","I/R","HSP10"], "range": ["#111","#111","#111"]}, "legend": null},
               "stroke": {"field": "grp", "type": "nominal", "scale": {"domain": ["CTL","I/R","HSP10"], "range": ["#111","#111","#111"]}, "legend": null}
             }},
            {"data": {"name": "bars"}, "transform": [{"filter": "datum.panel === 'D'"}],
             "mark": {"type": "text", "angle": 270, "align": "right", "baseline": "middle", "fontSize": 17.5, "color": "#000", "stroke": "#000", "strokeWidth": 0.35},
             "encoding": {"x": {"field": "key", "type": "nominal"}, "y": {"datum": 264}, "text": {"field": "meas"}}},
            {"data": {"name": "bars"}, "transform": [{"filter": "datum.panel === 'D'"}],
             "mark": {"type": "text", "baseline": "bottom", "dy": -1, "fontSize": 19, "color": "#444"},
             "encoding": {"x": {"field": "key", "type": "nominal"}, "y": {"datum": 0}, "text": {"field": "n"}}},
            {"data": {"name": "bars"}, "transform": [{"filter": "datum.panel === 'D' && datum.meas === 'Complex IV'"}],
             "mark": {"type": "text", "baseline": "top", "dy": 6, "fontSize": 18, "fontWeight": "bold", "color": "#111", "lineBreak": "\n"},
             "encoding": {"x": {"field": "key", "type": "nominal", "bandPosition": 0}, "y": {"datum": 0}, "text": {"field": "grp"}}}
          ]
        },
        {
          "width": 680, "height": 401, "title": "E",
          "resolve": {"axis": {"y": "independent"}},
          "layer": [
            {"data": {"name": "bars"}, "transform": [{"filter": "datum.panel === 'E'"}],
             "mark": {"type": "bar", "fill": "white", "stroke": "#333", "strokeWidth": 1.3},
             "encoding": {
               "x": {"field": "key", "type": "nominal", "scale": {"type": "band", "domain": ["E1a","E1b","E_s1","E2a","E2b","E_s2","E3a","E3b","E_s3","E4a","E4b","E_s4","E5a","E5b","E_s5","E6a","E6b","E_s6","E7a","E7b","E_s7","E8a","E8b"], "paddingInner": 0, "paddingOuter": 0.5}, "axis": {"labels": false, "ticks": false, "title": null, "domainWidth": 2.5}},
               "y": {"field": "mean", "type": "quantitative", "scale": {"domain": [0, 600], "nice": false}, "axis": {"orient": "left", "values": [0,50,100,150,200,250,300,350,400,450,500,550,600], "labelOverlap": false, "tickSize": 8, "labelFontSize": 16, "title": ["Mitochondrial respiration", "[nmol O₂ / min / mg protein]"], "titleFontSize": 19, "titleLineHeight": 22}}
             }},
            {"data": {"name": "bars"}, "transform": [{"filter": "datum.panel === 'E'"}],
             "mark": {"type": "rule", "color": "#444", "strokeWidth": 1.5},
             "encoding": {"x": {"field": "key", "type": "nominal"}, "y": {"field": "lo", "type": "quantitative", "axis": {"orient": "left", "values": [25,75,125,175,225,275,325,375,425,475,525,575], "labels": false, "domain": false, "title": null, "tickSize": 4}}, "y2": {"field": "hi"}}},
            {"data": {"name": "bars"}, "transform": [{"filter": "datum.panel === 'E'"}],
             "mark": {"type": "tick", "color": "#444", "thickness": 1.5, "size": 10},
             "encoding": {"x": {"field": "key", "type": "nominal"}, "y": {"field": "hi", "type": "quantitative", "axis": null}}},
            {"data": {"name": "bars"}, "transform": [{"filter": "datum.panel === 'E'"}],
             "mark": {"type": "tick", "color": "#444", "thickness": 1.5, "size": 10},
             "encoding": {"x": {"field": "key", "type": "nominal"}, "y": {"field": "lo", "type": "quantitative", "axis": null}}},
            {"data": {"name": "pts"}, "transform": [{"lookup": "key", "from": {"data": {"name": "bars"}, "key": "key", "fields": ["panel", "grp"]}}, {"filter": "datum.panel === 'E'"}],
             "mark": {"type": "point", "filled": true, "opacity": 1, "size": 45, "strokeWidth": 1},
             "encoding": {
               "x": {"field": "key", "type": "nominal"},
               "xOffset": {"field": "rep", "type": "nominal"},
               "y": {"field": "value", "type": "quantitative", "axis": null},
               "shape": {"field": "grp", "type": "nominal", "scale": {"domain": ["Baseline","Time\nControl","Hyp/reox","Hyp/reox\n5-10sP","Hyp/reox\n5-10sP\nCHEL","Hyp/reox\n5-10sP\n5HD","Hyp/reox\nCHEL","Hyp/reox\n5HD"], "range": ["circle","square","triangle-up","triangle-down","triangle-up","diamond","circle","square"]}, "legend": null},
               "fill": {"field": "grp", "type": "nominal", "scale": {"domain": ["Baseline","Time\nControl","Hyp/reox","Hyp/reox\n5-10sP","Hyp/reox\n5-10sP\nCHEL","Hyp/reox\n5-10sP\n5HD","Hyp/reox\nCHEL","Hyp/reox\n5HD"], "range": ["#111","#111","#111","#111","transparent","#111","transparent","transparent"]}, "legend": null},
               "stroke": {"field": "grp", "type": "nominal", "scale": {"domain": ["Baseline","Time\nControl","Hyp/reox","Hyp/reox\n5-10sP","Hyp/reox\n5-10sP\nCHEL","Hyp/reox\n5-10sP\n5HD","Hyp/reox\nCHEL","Hyp/reox\n5HD"], "range": ["#111","#111","#111","#111","#777","#111","#777","#777"]}, "legend": null}
             }},
            {"data": {"name": "bars"}, "transform": [{"filter": "datum.panel === 'E'"}],
             "mark": {"type": "text", "angle": 270, "align": "right", "baseline": "middle", "fontSize": 14, "color": "#000", "stroke": "#000", "strokeWidth": 0.3},
             "encoding": {"x": {"field": "key", "type": "nominal"}, "y": {"datum": 224, "axis": null}, "text": {"field": "meas"}}},
            {"data": {"name": "bars"}, "transform": [{"filter": "datum.panel === 'E'"}],
             "mark": {"type": "text", "baseline": "bottom", "dy": -2, "fontSize": 14, "color": "#333"},
             "encoding": {"x": {"field": "key", "type": "nominal"}, "y": {"datum": 0, "axis": null}, "text": {"field": "n"}}},
            {"data": {"name": "bars"}, "transform": [{"filter": "datum.panel === 'E' && datum.meas === 'Complex IV'"}],
             "mark": {"type": "text", "baseline": "top", "dy": 4, "fontSize": 15, "fontWeight": "bold", "color": "#111", "lineBreak": "\n", "lineHeight": 17},
             "encoding": {"x": {"field": "key", "type": "nominal", "bandPosition": 0}, "y": {"datum": 0, "axis": null}, "text": {"field": "grp"}}}
          ]
        },
        {
          "width": 466, "height": 402, "title": "F",
          "resolve": {"axis": {"y": "independent"}},
          "layer": [
            {"data": {"name": "bars"}, "transform": [{"filter": "datum.panel === 'F'"}],
             "mark": {"type": "bar", "fill": "white", "stroke": "#333", "strokeWidth": 1.3},
             "encoding": {
               "x": {"field": "key", "type": "nominal", "scale": {"type": "band", "domain": ["F1a","F1b","F_s1","F2a","F2b","F_s2","F3a","F3b","F_s3","F4a","F4b","F_s4","F5a","F5b","F_s5","F6a","F6b"], "paddingInner": 0, "paddingOuter": 0.5}, "axis": {"labels": false, "ticks": false, "title": null, "domainWidth": 2.5}},
               "y": {"field": "mean", "type": "quantitative", "scale": {"domain": [0, 600], "nice": false}, "axis": {"orient": "left", "values": [0,50,100,150,200,250,300,350,400,450,500,550,600], "labelOverlap": false, "tickSize": 8, "labelFontSize": 17, "title": ["Mitochondrial respiration", "[nmol O₂ / min / mg protein]"], "titleFontSize": 20, "titleLineHeight": 22}}
             }},
            {"data": {"name": "bars"}, "transform": [{"filter": "datum.panel === 'F'"}],
             "mark": {"type": "rule", "color": "#444", "strokeWidth": 1.5},
             "encoding": {"x": {"field": "key", "type": "nominal"}, "y": {"field": "lo", "type": "quantitative", "axis": {"orient": "left", "values": [25,75,125,175,225,275,325,375,425,475,525,575], "labels": false, "domain": false, "title": null, "tickSize": 4}}, "y2": {"field": "hi"}}},
            {"data": {"name": "bars"}, "transform": [{"filter": "datum.panel === 'F'"}],
             "mark": {"type": "tick", "color": "#444", "thickness": 1.5, "size": 10},
             "encoding": {"x": {"field": "key", "type": "nominal"}, "y": {"field": "hi", "type": "quantitative", "axis": null}}},
            {"data": {"name": "bars"}, "transform": [{"filter": "datum.panel === 'F'"}],
             "mark": {"type": "tick", "color": "#444", "thickness": 1.5, "size": 10},
             "encoding": {"x": {"field": "key", "type": "nominal"}, "y": {"field": "lo", "type": "quantitative", "axis": null}}},
            {"data": {"name": "pts"}, "transform": [{"lookup": "key", "from": {"data": {"name": "bars"}, "key": "key", "fields": ["panel", "grp"]}}, {"filter": "datum.panel === 'F'"}],
             "mark": {"type": "point", "filled": true, "opacity": 1, "size": 40, "strokeWidth": 1},
             "encoding": {
               "x": {"field": "key", "type": "nominal"},
               "xOffset": {"field": "rep", "type": "nominal"},
               "y": {"field": "value", "type": "quantitative", "axis": null},
               "shape": {"field": "grp", "type": "nominal", "scale": {"domain": ["Baseline","Time\nControl","Hyp/Reox","Hyp/Reox\nHSP10","Hyp/Reox\nHSP10\nCHEL","Hyp/Reox\nHSP10\n5HD"], "range": ["circle","square","triangle-up","triangle-down","triangle-up","diamond"]}, "legend": null},
               "fill": {"field": "grp", "type": "nominal", "scale": {"domain": ["Baseline","Time\nControl","Hyp/Reox","Hyp/Reox\nHSP10","Hyp/Reox\nHSP10\nCHEL","Hyp/Reox\nHSP10\n5HD"], "range": ["#111","#111","#111","#111","transparent","#111"]}, "legend": null},
               "stroke": {"field": "grp", "type": "nominal", "scale": {"domain": ["Baseline","Time\nControl","Hyp/Reox","Hyp/Reox\nHSP10","Hyp/Reox\nHSP10\nCHEL","Hyp/Reox\nHSP10\n5HD"], "range": ["#111","#111","#111","#111","#777","#111"]}, "legend": null}
             }},
            {"data": {"name": "bars"}, "transform": [{"filter": "datum.panel === 'F'"}],
             "mark": {"type": "text", "angle": 270, "align": "right", "baseline": "middle", "fontSize": 16.5, "color": "#000", "stroke": "#000", "strokeWidth": 0.35},
             "encoding": {"x": {"field": "key", "type": "nominal"}, "y": {"datum": 247, "axis": null}, "text": {"field": "meas"}}},
            {"data": {"name": "bars"}, "transform": [{"filter": "datum.panel === 'F'"}],
             "mark": {"type": "text", "baseline": "bottom", "dy": -1, "fontSize": 16, "color": "#333"},
             "encoding": {"x": {"field": "key", "type": "nominal"}, "y": {"datum": 0, "axis": null}, "text": {"field": "n"}}},
            {"data": {"name": "bars"}, "transform": [{"filter": "datum.panel === 'F' && datum.meas === 'Complex IV'"}],
             "mark": {"type": "text", "baseline": "top", "dy": 4, "fontSize": 15.5, "fontWeight": "bold", "color": "#111", "lineBreak": "\n", "lineHeight": 17.5},
             "encoding": {"x": {"field": "key", "type": "nominal", "bandPosition": 0}, "y": {"datum": 0, "axis": null}, "text": {"field": "grp"}}}
          ]
        }
      ]
    }
  ]
}
